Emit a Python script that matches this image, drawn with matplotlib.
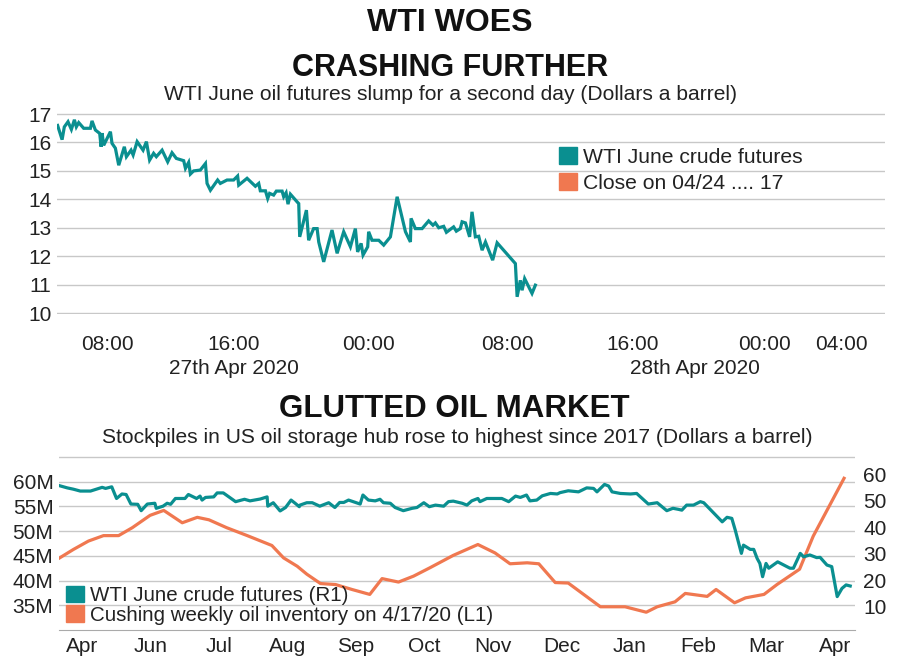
import matplotlib
matplotlib.use("Agg")
import matplotlib.pyplot as plt
from matplotlib.patches import Patch
from matplotlib.transforms import blended_transform_factory

plt.rcParams['font.family'] = ['Liberation Sans', 'DejaVu Sans']

TEAL = '#0a8f90'
ORANGE = '#f07850'
GRID = '#c8c8c8'
TXT = '#222222'

# --- top chart: intraday WTI June futures (x = hours from 27 Apr 00:00)
wti_hours = [4.89, 5.17, 5.31, 5.54, 5.75, 5.94, 6.06, 6.21, 6.52, 6.94, 7.04, 7.25, 7.52, 7.61,
             7.67, 7.77, 8.19, 8.29, 8.5, 8.71, 9.06, 9.19, 9.48, 9.61, 9.86, 10.23, 10.44, 10.64,
             10.89, 11.06, 11.42, 11.77, 12.04, 12.31, 12.77, 12.88, 13.08, 13.19, 13.39, 13.81,
             14.13, 14.23, 14.44, 14.89, 15.06, 15.48, 15.89, 16.14, 16.21, 16.73, 17.25, 17.46,
             17.56, 17.88, 18.02, 18.14, 18.39, 18.56, 18.92, 19.02, 19.17, 19.29, 19.44, 19.86,
             19.96, 20.02, 20.44, 20.58, 20.89, 21.11, 21.21, 21.52, 22.04, 22.36, 22.77, 23.19,
             23.5, 23.64, 23.86, 23.98, 24.27, 24.33, 24.54, 24.96, 25.27, 25.69, 26.11, 26.63,
             26.94, 26.98, 27.25, 27.67, 28.08, 28.35, 28.5, 28.71, 29.02, 29.19, 29.64, 29.81,
             30.06, 30.17, 30.38, 30.64, 30.79, 31.0, 31.21, 31.42, 31.63, 32.08, 32.36, 33.5,
             33.61, 33.81, 33.92, 34.08, 34.44, 34.54, 34.75]
wti_price = [16.6, 16.1, 16.55, 16.73, 16.46, 16.8, 16.55, 16.7, 16.5, 16.5, 16.76, 16.44, 16.32, 15.85,
             16.33, 15.9, 16.38, 15.97, 15.8, 15.2, 15.85, 15.5, 15.73, 15.56, 16.03, 15.73, 16.03, 15.38,
             15.62, 15.5, 15.73, 15.32, 15.64, 15.44, 15.36, 15.09, 15.3, 14.89, 15.0, 15.03,
             15.26, 14.56, 14.32, 14.68, 14.56, 14.68, 14.68, 14.82, 14.5, 14.74, 14.46, 14.56,
             14.3, 14.3, 14.03, 14.21, 14.15, 14.29, 14.29, 14.09, 14.23, 13.83, 14.18, 13.91,
             13.85, 12.68, 13.62, 12.56, 12.97, 12.97, 12.5, 11.8, 12.92, 12.1, 12.86, 12.33,
             12.97, 12.15, 12.45, 12.04, 12.33, 12.86, 12.56, 12.56, 12.39, 12.68, 14.09, 12.86,
             12.5, 13.33, 12.97, 12.97, 13.24, 13.09, 13.17, 13.0, 13.05, 12.84, 13.03, 12.88,
             12.97, 13.21, 13.17, 12.68, 13.56, 12.68, 12.7, 12.21, 12.5, 11.86, 12.47, 11.74,
             10.57, 11.15, 10.8, 11.21, 10.8, 10.69, 10.98]
top_tick_pos = [8, 15.9, 24.3, 33.0, 40.8, 49.1, 53.9]
top_tick_labels = ['08:00', '16:00', '00:00', '08:00', '16:00', '00:00', '04:00']
top_yticks = [10, 11, 12, 13, 14, 15, 16, 17]
date_pos = [15.9, 44.75]
date_labels = ['27th Apr 2020', '28th Apr 2020']

# --- bottom chart: x = months from Apr 2019 tick
inv_x = [-0.33, -0.13, 0.09, 0.31, 0.53, 0.73, 0.99, 1.19, 1.46, 1.68, 1.85, 2.11, 2.41, 2.77, 2.94,
         3.14, 3.28, 3.48, 3.70, 3.94, 4.20, 4.38, 4.62, 4.84, 5.08, 5.42, 5.78, 6.03, 6.25, 6.50,
         6.67, 6.91, 7.10, 7.57, 7.93, 8.24, 8.40, 8.66, 8.81, 9.13, 9.26, 9.53, 9.69, 9.96, 10.15,
         10.48, 10.68, 11.13]
inventory_m = [44.6, 46.3, 48.0, 49.1, 49.1, 50.7, 53.2, 54.2, 51.7, 52.8, 52.3, 50.7, 49.1, 47.1, 44.6,
               42.9, 41.3, 39.4, 39.2, 38.2, 37.2, 40.4, 39.7, 40.9, 42.6, 45.1, 47.3, 45.6, 43.4, 43.6,
               43.4, 39.6, 39.5, 34.7, 34.7, 33.6, 34.7, 35.7, 37.4, 36.8, 38.2, 35.5, 36.5, 37.2, 39.2,
               42.3, 49.0, 60.7]
fut_x = [-0.33, -0.22, -0.13, -0.03, 0.12, 0.29, 0.34, 0.43, 0.50, 0.58, 0.64, 0.71, 0.81, 0.86, 0.95,
         1.06, 1.08, 1.18, 1.24, 1.29, 1.36, 1.50, 1.55, 1.67, 1.72, 1.75, 1.80, 1.92, 1.97, 2.06,
         2.24, 2.37, 2.45, 2.60, 2.70, 2.71, 2.79, 2.89, 2.97, 3.05, 3.11, 3.17, 3.18, 3.28, 3.36,
         3.47, 3.60, 3.69, 3.76, 3.82, 3.89, 4.06, 4.10, 4.18, 4.28, 4.35, 4.40, 4.50, 4.57, 4.69,
         4.82, 4.89, 4.99, 5.07, 5.16, 5.28, 5.35, 5.42, 5.55, 5.62, 5.69, 5.78, 5.81, 5.91, 6.13,
         6.23, 6.33, 6.40, 6.49, 6.54, 6.64, 6.72, 6.84, 6.94, 6.98, 7.10, 7.25, 7.37, 7.47, 7.52,
         7.63, 7.69, 7.74, 7.86, 8.01, 8.10, 8.27, 8.40, 8.54, 8.63, 8.71, 8.76, 8.83, 8.93, 9.03,
         9.08, 9.35, 9.42, 9.49, 9.54, 9.63, 9.66, 9.76, 9.81, 9.86, 9.90, 9.94, 9.99, 10.03, 10.16,
         10.34, 10.39, 10.49, 10.54, 10.63, 10.73, 10.78, 10.88, 10.95, 11.03, 11.10, 11.16, 11.22]
fut_price = [55.6, 54.8, 54.3, 53.6, 53.6, 55.0, 54.6, 55.2, 50.8, 52.5, 52.3, 48.7, 48.6, 46.2, 48.7,
             49.0, 47.1, 47.9, 49.0, 48.6, 50.8, 50.8, 52.3, 50.8, 51.7, 50.2, 51.2, 51.4, 52.9, 52.9,
             49.6, 50.5, 49.9, 50.6, 51.4, 47.9, 49.2, 46.1, 47.4, 50.2, 49.0, 47.7, 48.3, 49.2, 49.2,
             47.9, 49.2, 47.4, 49.3, 49.3, 50.2, 48.7, 52.1, 50.2, 49.9, 50.5, 49.2, 49.0, 47.4, 46.2,
             47.1, 47.4, 49.2, 47.7, 48.3, 47.9, 49.6, 49.8, 49.0, 48.3, 49.9, 50.8, 49.6, 50.8, 50.8,
             49.6, 51.7, 51.2, 52.1, 49.9, 50.2, 51.8, 52.7, 52.5, 53.0, 53.7, 53.3, 54.8, 54.6, 53.3,
             56.1, 55.5, 53.3, 52.7, 52.5, 52.7, 48.7, 49.2, 46.2, 47.1, 46.7, 46.4, 48.3, 48.3, 49.6,
             49.2, 42.0, 43.7, 43.3, 38.9, 30.1, 33.2, 31.6, 31.6, 28.2, 26.3, 21.3, 26.3, 24.5, 26.9,
             24.5, 24.5, 30.1, 28.8, 29.5, 28.5, 28.6, 25.7, 25.1, 13.8, 16.9, 18.2, 17.8]
month_labels = ['Apr', 'Jun', 'Jul', 'Aug', 'Sep', 'Oct', 'Nov', 'Dec', 'Jan', 'Feb', 'Mar', 'Apr']
left_ticks_m = [35, 40, 45, 50, 55, 60, 65]
right_ticks = [10, 20, 30, 40, 50, 60]

fig = plt.figure(figsize=(9, 6.69), dpi=100)
fig.patch.set_facecolor('white')

fig.text(0.5, 0.966, 'WTI WOES', ha='center', va='center', fontsize=23, fontweight='heavy', color='#111111')
fig.text(0.5, 0.899, 'CRASHING FURTHER', ha='center', va='center', fontsize=22, fontweight='bold', color='#111111')
fig.text(0.5, 0.859, 'WTI June oil futures slump for a second day (Dollars a barrel)',
         ha='center', va='center', fontsize=15.1, color=TXT)
fig.text(0.505, 0.388, 'GLUTTED OIL MARKET', ha='center', va='center', fontsize=22.5, fontweight='bold', color='#111111')
fig.text(0.508, 0.346, 'Stockpiles in US oil storage hub rose to highest since 2017 (Dollars a barrel)',
         ha='center', va='center', fontsize=15.1, color=TXT)

# top chart
ax = fig.add_axes([0.0633, 0.530, 0.92, 0.3016])
ax.plot(wti_hours, wti_price, color=TEAL, lw=2.3, solid_joinstyle='miter')
ax.set_xlim(4.85, 56.6)
ax.set_ylim(9.95, 17.05)
ax.set_yticks(top_yticks)
ax.set_xticks(top_tick_pos)
ax.set_xticklabels(top_tick_labels)
ax.grid(axis='y', color=GRID, lw=1)
ax.set_axisbelow(True)
for s in ax.spines.values():
    s.set_visible(False)
ax.tick_params(length=0, labelsize=15, colors=TXT)
ax.tick_params(axis='x', pad=15)
ax.tick_params(axis='y', pad=4)
tr = blended_transform_factory(ax.transData, ax.transAxes)
for p, lab in zip(date_pos, date_labels):
    ax.text(p, -0.27, lab, transform=tr, ha='center', va='center', fontsize=15, color=TXT)
ax.legend(handles=[Patch(color=TEAL, label='WTI June crude futures'),
                   Patch(color=ORANGE, label='Close on 04/24 .... 17')],
          loc='upper left', bbox_to_anchor=(0.606, 0.83), frameon=False, fontsize=15.2,
          handlelength=0.85, handleheight=0.85, handletextpad=0.3, labelspacing=0.3,
          borderpad=0, borderaxespad=0, labelcolor=TXT)

# bottom chart
ax2 = fig.add_axes([0.0656, 0.0583, 0.8844, 0.260])
ax2.plot(inv_x, inventory_m, color=ORANGE, lw=2.3)
ax2.set_xlim(-0.34, 11.29)
ax2.set_ylim(30, 65.2)
ax2.set_yticks(left_ticks_m)
ax2.set_yticklabels([f'{v}M' if v < 65 else '' for v in left_ticks_m])
ax2.set_xticks(range(len(month_labels)))
ax2.set_xticklabels(month_labels)
ax2.grid(axis='y', color=GRID, lw=1)
ax2.set_axisbelow(True)
for s in ax2.spines.values():
    s.set_visible(False)
ax2.spines['bottom'].set_visible(True)
ax2.spines['bottom'].set_color('#aaaaaa')
ax2.tick_params(length=0, labelsize=15, colors=TXT)
ax2.tick_params(axis='x', pad=5)
ax2.tick_params(axis='y', pad=4)

ax3 = ax2.twinx()
ax3.plot(fut_x, fut_price, color=TEAL, lw=2.3)
ax3.set_ylim(1.2, 66.8)
ax3.set_yticks(right_ticks)
for s in ax3.spines.values():
    s.set_visible(False)
ax3.tick_params(length=0, labelsize=15, colors=TXT, pad=6)

ax3.legend(handles=[Patch(color=TEAL, label='WTI June crude futures (R1)'),
                    Patch(color=ORANGE, label='Cushing weekly oil inventory on 4/17/20 (L1)')],
           loc='upper left', bbox_to_anchor=(0.009, 0.253), frameon=False, fontsize=14.8,
           handlelength=0.85, handleheight=0.85, handletextpad=0.3, labelspacing=0.0,
           borderpad=0, borderaxespad=0, labelcolor=TXT)

fig.savefig('out.png', dpi=100, facecolor='white')
